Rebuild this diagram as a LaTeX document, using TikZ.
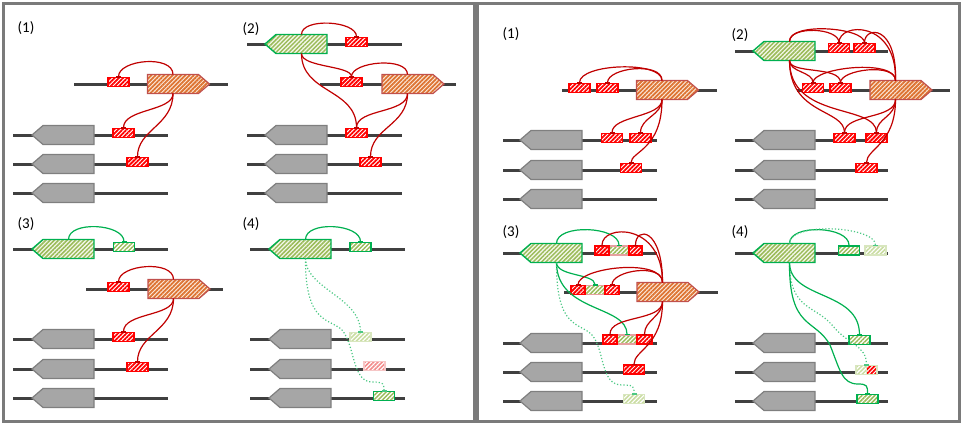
\documentclass[tikz,border=0pt]{standalone}
\usepackage{fontspec}
\setmainfont{Carlito}
\usetikzlibrary{arrows.meta,patterns.meta,calc}
\definecolor{bbcol}{HTML}{404040}
\definecolor{grayfill}{HTML}{A6A6A6}
\definecolor{graydraw}{HTML}{7F7F7F}
\definecolor{boxred}{HTML}{FF0000}
\definecolor{connred}{HTML}{C00000}
\definecolor{mygreen}{HTML}{00B050}
\definecolor{greenstripe}{HTML}{9BBB59}
\definecolor{greenbg}{HTML}{F4F8EA}
\definecolor{orstripe}{HTML}{DD7331}
\definecolor{orbg}{HTML}{FCE9DC}
\definecolor{ordraw}{HTML}{C0504D}
\definecolor{framecol}{HTML}{7A7A7A}
\definecolor{fadegreen}{HTML}{C9DCA0}
\definecolor{fadegreendraw}{HTML}{D8E6BE}
\definecolor{fadered}{HTML}{F28B8B}
\definecolor{fadereddraw}{HTML}{F6C6C6}
\definecolor{pinkdraw}{HTML}{E6A0A0}
\tikzset{
 hatch/.style={pattern={Lines[angle=45,distance=3pt,line width=1.5pt]},pattern color=#1},
 hatchb/.style={pattern={Lines[angle=45,distance=3pt,line width=1.8pt]},pattern color=#1},
 bb/.style={draw=bbcol,line width=3pt},
 gbody/.style={minimum width=51pt,minimum height=19pt,inner sep=0pt,outer sep=0pt},
 graygene/.style={fill=grayfill,draw=graydraw,line width=1.2pt},
 orgene/.style={preaction={fill=orbg},hatchb=orstripe,draw=ordraw,line width=1.2pt},
 grgene/.style={preaction={fill=greenbg},hatch=greenstripe,draw=mygreen,line width=1.4pt},
 boxbase/.style={minimum width=21pt,minimum height=9pt,inner sep=0pt,outer sep=0pt,line width=1.4pt,preaction={fill=white}},
 rbox/.style={boxbase,hatchb=boxred,draw=boxred},
 gbox/.style={boxbase,hatch=greenstripe,draw=mygreen},
 fgbox/.style={boxbase,hatch=fadegreen,draw=fadegreendraw},
 frbox/.style={boxbase,hatch=fadered,draw=fadereddraw},
 mbox/.style={boxbase,hatch=greenstripe,draw=pinkdraw,minimum width=20pt},
 rc/.style={draw=connred,line width=1.2pt,-{Bar[width=5pt,line width=1.2pt]}},
 gc/.style={draw=mygreen,line width=1.2pt,-{Bar[width=5pt,line width=1.2pt]}},
 gd/.style={gc,draw=mygreen!70,dotted},
 lbl/.style={font=\fontsize{15}{17}\selectfont,inner sep=0pt},
}
\newcommand\geneR[4]{\node[gbody] (#1) at (#2,#3) {}; \draw[#4] (#1.north west) -- (#1.north east) -- ++(11,9.5) -- (#1.south east) -- (#1.south west) -- cycle;}
\newcommand\geneL[4]{\node[gbody] (#1) at (#2,#3) {}; \draw[#4] (#1.north east) -- (#1.north west) -- ++(-11,9.5) -- (#1.south west) -- (#1.south east) -- cycle;}
\begin{document}
\begin{tikzpicture}[x=1pt,y=-1pt]
\useasboundingbox (0,0) rectangle (964,426);
\draw[framecol,line width=3pt] (3.5,3) rectangle (474.5,421.5);
\draw[framecol,line width=3pt] (477.5,3) rectangle (959.5,421.5);
% ===== Panel A (left 1)
\node[lbl] (A0) at (26,28) {(1)};
\draw[bb] (74,84) -- (228,84);
\draw[bb] (13,135) -- (168,135);
\draw[bb] (13,164) -- (168,164);
\draw[bb] (13,193) -- (168,193);
\geneR{Ao}{173}{84}{orgene}
\geneL{Ag2}{68.5}{135}{graygene}
\geneL{Ag3}{68.5}{164}{graygene}
\geneL{Ag4}{68.5}{193}{graygene}
\node[rbox] (Ar1) at (118.5,82) {};
\node[rbox] (Ar2) at (123.5,133) {};
\node[rbox] (Ar3) at (137.5,162) {};
\draw[rc] (Ao.north) .. controls +(0,-20) and +(0,-18) .. (Ar1.north);
\draw[rc] (Ao.south) .. controls +(0,18) and +(0,-20) .. (Ar2.north);
\draw[rc] (Ao.south) .. controls +(0,32) and +(0,-28) .. (Ar3.north);
% ===== Panel B (left 2)
\node[lbl] (B0) at (251,29) {(2)};
\draw[bb] (247,44) -- (402,44);
\draw[bb] (320,84) -- (456,84);
\draw[bb] (247,135) -- (402,135);
\draw[bb] (247,164) -- (402,164);
\draw[bb] (247,193) -- (402,193);
\geneL{Bg}{301.5}{44}{grgene}
\geneR{Bo}{407.5}{84}{orgene}
\geneL{Bg2}{301.5}{135}{graygene}
\geneL{Bg3}{301.5}{164}{graygene}
\geneL{Bg4}{301.5}{193}{graygene}
\node[rbox] (Br1) at (356.5,42) {};
\node[rbox] (Br2) at (351.5,82) {};
\node[rbox] (Br3) at (356.5,133) {};
\node[rbox] (Br4) at (370.5,162) {};
\draw[rc] (Bg.north) .. controls +(0,-17) and +(0,-17) .. (Br1.north);
\draw[rc] (Bg.south) .. controls +(0,14) and +(0,-12) .. (Br2.north);
\draw[rc] (Bg.south) .. controls +(0,40) and +(0,-40) .. (Br3.north);
\draw[rc] (Bo.north) .. controls +(0,-18) and +(0,-16) .. (Br2.north);
\draw[rc] (Bo.south) .. controls +(0,20) and +(0,-20) .. (Br3.north);
\draw[rc] (Bo.south) .. controls +(0,32) and +(0,-30) .. (Br4.north);
% ===== Panel C (left 3)
\node[lbl] (C0) at (26,224) {(3)};
\draw[bb] (13,249) -- (168,249);
\draw[bb] (86,289) -- (223,289);
\draw[bb] (13,339) -- (168,339);
\draw[bb] (13,369) -- (168,369);
\draw[bb] (13,398) -- (168,398);
\geneL{Cg}{68.5}{249}{grgene}
\geneR{Co}{173.5}{289}{orgene}
\geneL{Cg2}{68.5}{339}{graygene}
\geneL{Cg3}{68.5}{369}{graygene}
\geneL{Cg4}{68.5}{398}{graygene}
\node[gbox] (Cb) at (124,247) {};
\node[rbox] (Cr1) at (118.5,287) {};
\node[rbox] (Cr2) at (123.5,337) {};
\node[rbox] (Cr3) at (137.5,367) {};
\draw[gc] (Cg.north) .. controls +(0,-19) and +(0,-19) .. (Cb.north);
\draw[rc] (Co.north) .. controls +(0,-20) and +(0,-18) .. (Cr1.north);
\draw[rc] (Co.south) .. controls +(0,18) and +(0,-20) .. (Cr2.north);
\draw[rc] (Co.south) .. controls +(0,32) and +(0,-28) .. (Cr3.north);
% ===== Panel D (left 4)
\node[lbl] (D0) at (251,224) {(4)};
\draw[bb] (250,249) -- (405,249);
\draw[bb] (250,339) -- (405,339);
\draw[bb] (250,369) -- (405,369);
\draw[bb] (250,398) -- (405,398);
\geneL{Dg}{305.5}{249}{grgene}
\geneL{Dg2}{305.5}{339}{graygene}
\geneL{Dg3}{305.5}{369}{graygene}
\geneL{Dg4}{305.5}{398}{graygene}
\node[gbox] (Db) at (360.5,247) {};
\node[fgbox] (Df1) at (360.5,337) {};
\node[frbox] (Df2) at (374.5,366) {};
\node[gbox] (Db3) at (384,396) {};
\draw[gc] (Dg.north) .. controls +(0,-19) and +(0,-19) .. (Db.north);
\draw[gd] (Dg.south) .. controls +(0,30) and +(0,-35) .. (Df1.north);
\draw[gd] (Dg.south) .. controls (305,325) and (330,318) .. (342,330) .. controls (355,345) and (352,382) .. (372,382) .. controls (384,382) and (384,384) .. (Db3.north);
% ===== Panel E (right 1)
\node[lbl] (E0) at (511,34) {(1)};
\draw[bb] (562,90) -- (717,90);
\draw[bb] (503,140) -- (657,140);
\draw[bb] (503,170) -- (657,170);
\draw[bb] (503,199) -- (657,199);
\geneR{Eo}{662}{90}{orgene}
\geneL{Eg2}{556.5}{140}{graygene}
\geneL{Eg3}{556.5}{170}{graygene}
\geneL{Eg4}{556.5}{199}{graygene}
\node[rbox] (Er1) at (579.5,88) {};
\node[rbox] (Er2) at (607.5,88) {};
\node[rbox] (Er3) at (612,138) {};
\node[rbox] (Er4) at (640.5,138) {};
\node[rbox] (Er5) at (631,168) {};
\draw[rc] (Eo.north) .. controls +(0,-20) and +(0,-20) .. (Er1.north);
\draw[rc] (Eo.north) .. controls +(0,-19) and +(0,-16) .. (Er2.north);
\draw[rc] (Eo.south) .. controls +(0,18) and +(0,-18) .. (Er3.north);
\draw[rc] (Eo.south) .. controls +(0,16) and +(0,-16) .. (Er4.north);
\draw[rc] (Eo.south) .. controls +(0,50) and +(0,-12) .. (Er5.north);
% ===== Panel F (right 2)
\node[lbl] (F0) at (740,35) {(2)};
\draw[bb] (735,51) -- (888,51);
\draw[bb] (797,90) -- (950,90);
\draw[bb] (735,140) -- (888,140);
\draw[bb] (735,170) -- (888,170);
\draw[bb] (735,199) -- (888,199);
\geneL{Fg}{789.5}{51}{grgene}
\geneR{Fo}{895.5}{90}{orgene}
\geneL{Fg2}{789.5}{140}{graygene}
\geneL{Fg3}{789.5}{170}{graygene}
\geneL{Fg4}{789.5}{199}{graygene}
\node[rbox] (Fr1) at (839,48) {};
\node[rbox] (Fr2) at (864.5,48) {};
\node[rbox] (Fr3) at (813,88) {};
\node[rbox] (Fr4) at (840.5,88) {};
\node[rbox] (Fr5) at (844.5,138) {};
\node[rbox] (Fr6) at (876.5,138) {};
\node[rbox] (Fr7) at (866.5,168) {};
\draw[rc] (Fg.north) .. controls +(0,-16) and +(0,-16) .. (Fr1.north);
\draw[rc] (Fg.north) .. controls +(0,-20) and +(0,-16) .. (Fr2.north);
\draw[rc] (Fo.north) .. controls (897,20) and (839,22) .. (Fr1.north);
\draw[rc] (Fo.north) .. controls (897,24) and (864.5,26) .. (Fr2.north);
\draw[rc] (Fo.north) .. controls +(0,-22) and +(0,-16) .. (Fr3.north);
\draw[rc] (Fo.north) .. controls +(0,-18) and +(0,-14) .. (Fr4.north);
\draw[rc] (Fg.south) .. controls +(0,12) and +(0,-12) .. (Fr3.north);
\draw[rc] (Fg.south) .. controls +(0,14) and +(0,-18) .. (Fr4.north);
\draw[rc] (Fg.south) .. controls +(0,55) and +(0,-25) .. (Fr5.north);
\draw[rc] (Fg.south) .. controls +(0,60) and +(0,-30) .. (Fr6.north);
\draw[rc] (Fo.south) .. controls +(0,20) and +(0,-20) .. (Fr5.north);
\draw[rc] (Fo.south) .. controls +(0,18) and +(0,-16) .. (Fr6.north);
\draw[rc] (Fo.south) .. controls +(0,45) and +(0,-15) .. (Fr7.north);
% ===== Panel G (right 3)
\node[lbl] (G0) at (511,232) {(3)};
\draw[bb] (503,253) -- (657,253);
\draw[bb] (564,292) -- (718,292);
\draw[bb] (503,343) -- (657,343);
\draw[bb] (503,372) -- (657,372);
\draw[bb] (503,401) -- (657,401);
\geneL{Gg}{556.5}{253}{grgene}
\geneR{Go}{662.5}{292}{orgene}
\geneL{Gg2}{556.5}{343}{graygene}
\geneL{Gg3}{556.5}{372}{graygene}
\geneL{Gg4}{556.5}{401}{graygene}
\node[mbox] (Gm1) at (619,250.5) {};
\node[rbox,minimum width=14pt] (Gr1) at (602,250.5) {};
\node[rbox,minimum width=13pt] (Gr2) at (635.5,250.5) {};
\node[mbox] (Gm2) at (595,290) {};
\node[rbox,minimum width=14pt] (Gr3) at (578,290) {};
\node[rbox,minimum width=14pt] (Gr4) at (612,290) {};
\node[mbox] (Gm3) at (627,339.5) {};
\node[rbox,minimum width=14pt] (Gr5) at (610,339.5) {};
\node[rbox,minimum width=15pt] (Gr6) at (644.5,339.5) {};
\node[rbox] (Gr7) at (634,369.5) {};
\node[fgbox] (Gf) at (634,399) {};
\draw[gc] (Gg.north) .. controls +(0,-20) and +(0,-20) .. (Gm1.north);
\draw[gc] (Gg.south) .. controls +(0,14) and +(0,-12) .. (Gm2.north);
\draw[gc] (Gg.south) .. controls +(0,50) and +(0,-30) .. (Gm3.north);
\draw[gd] (Gg.south) .. controls (556,330) and (580,322) .. (592,335) .. controls (605,350) and (600,385) .. (622,385) .. controls (634,385) and (634,386) .. (Gf.north);
\draw[rc] (Go.north) .. controls +(0,-60) and +(0,-22) .. (Gr1.north);
\draw[rc] (Go.north) .. controls +(0,-55) and +(0,-20) .. (Gr2.north);
\draw[rc] (Go.north) .. controls +(0,-25) and +(0,-18) .. (Gr3.north);
\draw[rc] (Go.north) .. controls +(0,-20) and +(0,-15) .. (Gr4.north);
\draw[rc] (Go.south) .. controls +(0,20) and +(0,-20) .. (Gr5.north);
\draw[rc] (Go.south) .. controls +(0,15) and +(0,-15) .. (Gr6.north);
\draw[rc] (Go.south) .. controls +(0,45) and +(0,-15) .. (Gr7.north);
% ===== Panel H (right 4)
\node[lbl] (H0) at (740,232) {(4)};
\draw[bb] (735,253) -- (888,253);
\draw[bb] (735,343) -- (888,343);
\draw[bb] (735,372) -- (888,372);
\draw[bb] (735,401) -- (888,401);
\geneL{Hg}{789.5}{253}{grgene}
\geneL{Hg2}{789.5}{343}{graygene}
\geneL{Hg3}{789.5}{372}{graygene}
\geneL{Hg4}{789.5}{401}{graygene}
\node[gbox] (Hb1) at (849,250.5) {};
\node[fgbox] (Hf1) at (875.5,250.5) {};
\node[gbox] (Hb2) at (859.5,340) {};
\node[fgbox,minimum width=10.5pt] (Hm1) at (861.25,370) {};
\node[boxbase,minimum width=10.5pt,hatchb=boxred,draw=fadegreendraw] (Hm2) at (871.75,370) {};
\node[gbox] (Hb3) at (867.5,399) {};
\draw[gc] (Hg.north) .. controls +(0,-20) and +(0,-20) .. (Hb1.north);
\draw[gd] (Hg.north) .. controls +(0,-22) and +(0,-20) .. (Hf1.north);
\draw[gc] (Hg.south) .. controls (789.5,300) and (859.5,290) .. (Hb2.north);
\draw[gd] (Hg.south) .. controls (789.5,310) and (815,305) .. (832,325) .. controls (848,345) and (866.5,345) .. (Hm1.north east);
\draw[gc] (Hg.south) .. controls (789,330) and (815,318) .. (830,345) .. controls (840,370) and (842,384) .. (858,384) .. controls (867.5,384) and (867.5,386) .. (Hb3.north);
\end{tikzpicture}
\end{document}
